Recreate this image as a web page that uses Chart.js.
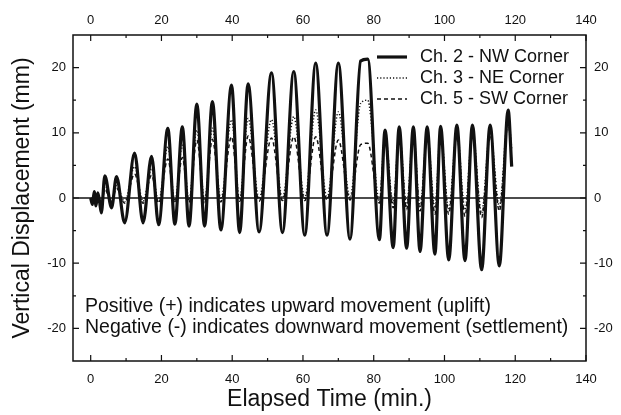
<!DOCTYPE html>
<html>
<head>
<meta charset="utf-8">
<script src="https://cdn.jsdelivr.net/npm/chart.js@4"></script>
<style>
  html, body { margin: 0; padding: 0; background: #fff; }
  #wrap { width: 621px; height: 415px; }
</style>
</head>
<body>
<div id="wrap"><canvas id="chart" width="621" height="415"></canvas></div>
<script>
// Cyclic uplift test: vertical displacement at three corners vs elapsed time.
// Values are turning points.

var timeMin = [
  0, 0.5, 1, 1.5, 2, 2.5, 3.0, 4.0, 5.9, 7.3,
  9.6, 12.4, 14.8, 17.2, 19.2, 21.8, 23.8, 25.9, 27.8, 30.0,
  32.2, 34.4, 36.8, 39.8, 42.1, 44.5, 47.6, 51.1, 54.2, 57.4,
  60.5, 63.6, 66.8, 70.0, 73.3, 76.3, 78.3, 81.6, 83.2, 85.5,
  87.2, 89.3, 91.2, 93.1, 95.1, 97.3, 98.9, 101.2, 103.5, 105.8,
  107.9, 110.5, 112.9, 115.5, 118.0, 119.0
];

var ch2NW = [
  0, -1.0, 1.0, -1.2, 0.8, -0.5, -2.3, 3.4, -1.5, 3.3,
  -3.8, 6.9, -3.8, 6.4, -4.1, 10.7, -4.0, 10.9, -4.3, 14.4,
  -4.3, 14.8, -4.9, 17.3, -5.3, 17.5, -5.2, 19.2, -5.3, 19.4,
  -5.7, 20.7, -5.7, 20.7, -6.3, 21.0, 21.3, -6.4, 10.4, -7.6,
  10.9, -7.7, 10.9, -8.2, 10.9, -8.6, 11.0, -9.5, 11.2, -9.6,
  11.2, -11.0, 11.2, -10.4, 13.5, 4.8
];

var ch3NE = [
  0, -0.3, 0.4, -0.4, 0.3, -0.2, -0.8, 1.6, -0.5, 1.9,
  -0.6, 4.8, -0.5, 4.5, -0.5, 7.9, -0.4, 8.1, -0.3, 10.4,
  -0.3, 10.7, -0.2, 12.0, -0.2, 12.2, -0.1, 12.0, 0, 12.5,
  0, 13.5, 0, 13.2, 0, 14.5, 15.0, -0.5, 10.0, -1.0,
  10.2, -1.2, 10.2, -1.5, 10.2, -1.5, 10.3, -1.8, 10.4, -1.8,
  10.4, -2.3, 10.4, -1.3, 12.5, 7.6
];

var ch5SW = [
  0, -0.5, 0.5, -0.5, 0.3, -0.2, -1.0, 1.3, -0.6, 1.5,
  -0.8, 3.7, -0.8, 3.5, -0.8, 6.0, -0.8, 6.2, -0.7, 8.9,
  -0.7, 9.0, -0.6, 9.4, -0.5, 9.5, -0.5, 9.2, -0.4, 9.4,
  -0.4, 9.4, -0.3, 8.9, -0.3, 8.2, 8.4, -0.8, 9.0, -1.5,
  9.4, -1.8, 9.4, -2.0, 9.4, -2.5, 9.5, -2.5, 9.6, -2.8,
  9.6, -3.0, 9.6, -2.0, 11.5, 5.6
];

var seriesNames = ['Ch. 2 - NW Corner', 'Ch. 3 - NE Corner', 'Ch. 5 - SW Corner'];
var xTickValues = [0, 20, 40, 60, 80, 100, 120, 140];
var xMinorTicks = [10, 30, 50, 70, 90, 110, 130];
var yTickValues = [-20, -10, 0, 10, 20];
var yMinorTicks = [-15, -5, 5, 15];
var noteLines = [
  'Positive (+) indicates upward movement (uplift)',
  'Negative (-) indicates downward movement (settlement)'
];

var INK = '#111';
var FONT = 'Liberation Sans, Arial, Helvetica, sans-serif';

function points(values) {
  return timeMin.map(function (t, i) { return { x: t, y: values[i] }; });
}

function fixTicks(values) {
  return function (axis) {
    axis.ticks = values.map(function (v) { return { value: v }; });
  };
}

// frame, inward ticks, zero line, legend and the note text
var paperFrame = {
  id: 'paperFrame',
  beforeDatasetsDraw: function (chart) {
    var ctx = chart.ctx, a = chart.chartArea;
    var y0 = chart.scales.y.getPixelForValue(0);
    ctx.save();
    ctx.strokeStyle = INK;
    ctx.lineWidth = 1.5;
    ctx.beginPath();
    ctx.moveTo(a.left, y0);
    ctx.lineTo(a.right, y0);
    ctx.stroke();
    ctx.restore();
  },
  afterDatasetsDraw: function (chart) {
    var ctx = chart.ctx, a = chart.chartArea;
    var xs = chart.scales.x, ys = chart.scales.y;
    ctx.save();
    ctx.strokeStyle = INK;
    ctx.lineWidth = 1.5;
    ctx.strokeRect(a.left, a.top, a.right - a.left, a.bottom - a.top);

    function xTick(v, len) {
      var px = xs.getPixelForValue(v);
      ctx.moveTo(px, a.bottom); ctx.lineTo(px, a.bottom - len);
      ctx.moveTo(px, a.top); ctx.lineTo(px, a.top + len);
    }
    function yTick(v, len) {
      var py = ys.getPixelForValue(v);
      ctx.moveTo(a.left, py); ctx.lineTo(a.left + len, py);
      ctx.moveTo(a.right, py); ctx.lineTo(a.right - len, py);
    }
    ctx.lineWidth = 1.2;
    ctx.beginPath();
    xTickValues.forEach(function (v) { xTick(v, 6); });
    xMinorTicks.forEach(function (v) { xTick(v, 3); });
    yTickValues.forEach(function (v) { yTick(v, 6); });
    yMinorTicks.forEach(function (v) { yTick(v, 3); });
    ctx.stroke();

    // legend
    ctx.font = '18px ' + FONT;
    ctx.fillStyle = INK;
    ctx.textBaseline = 'middle';
    chart.data.datasets.forEach(function (ds, i) {
      var ly = a.top + 22 + i * 21;
      ctx.save();
      ctx.strokeStyle = ds.borderColor;
      ctx.lineWidth = ds.borderWidth;
      ctx.setLineDash(ds.borderDash || []);
      ctx.beginPath();
      ctx.moveTo(a.left + 304, ly);
      ctx.lineTo(a.left + 334, ly);
      ctx.stroke();
      ctx.restore();
      ctx.fillText(ds.label, a.left + 347, ly);
    });

    // note
    ctx.font = '19.5px ' + FONT;
    noteLines.forEach(function (line, i) {
      ctx.fillText(line, a.left + 12, a.bottom - 54 + i * 21);
    });
    ctx.restore();
  }
};

var tickFont = { family: FONT, size: 13 };

new Chart(document.getElementById('chart'), {
  type: 'line',
  data: {
    datasets: [{
      label: seriesNames[0],
      data: points(ch2NW),
      borderColor: INK,
      borderWidth: 3.2,
      pointRadius: 0,
      cubicInterpolationMode: 'monotone'
    }, {
      label: seriesNames[1],
      data: points(ch3NE),
      borderColor: INK,
      borderWidth: 1.5,
      borderDash: [1.2, 2],
      pointRadius: 0,
      cubicInterpolationMode: 'monotone'
    }, {
      label: seriesNames[2],
      data: points(ch5SW),
      borderColor: INK,
      borderWidth: 1.5,
      borderDash: [4, 3],
      pointRadius: 0,
      cubicInterpolationMode: 'monotone'
    }]
  },
  options: {
    responsive: false,
    animation: false,
    layout: { padding: 0 },
    plugins: { legend: { display: false }, tooltip: { enabled: false } },
    scales: {
      x: {
        type: 'linear', position: 'bottom', min: -5, max: 140,
        grid: { display: false, drawTicks: false }, border: { display: false },
        ticks: { font: tickFont, color: INK, padding: 11, autoSkip: false, maxRotation: 0 },
        afterBuildTicks: fixTicks(xTickValues),
        afterFit: function (axis) { axis.height = 54; },
        title: { display: true, text: 'Elapsed Time (min.)', color: INK,
          font: { family: FONT, size: 23 }, padding: { top: 0, bottom: 2 } }
      },
      x2: {
        type: 'linear', position: 'top', min: -5, max: 140,
        grid: { display: false, drawTicks: false }, border: { display: false },
        ticks: { font: tickFont, color: INK, padding: 7, autoSkip: false, maxRotation: 0 },
        afterBuildTicks: fixTicks(xTickValues),
        afterFit: function (axis) { axis.height = 35; }
      },
      y: {
        type: 'linear', position: 'left', min: -25, max: 25,
        grid: { display: false, drawTicks: false }, border: { display: false },
        ticks: { font: tickFont, color: INK, padding: 7, autoSkip: false },
        afterBuildTicks: fixTicks(yTickValues),
        afterFit: function (axis) { axis.width = 73; },
        title: { display: true, text: 'Vertical Displacement (mm)', color: INK,
          font: { family: FONT, size: 23 }, padding: { top: 9, bottom: 0 } }
      },
      y2: {
        type: 'linear', position: 'right', min: -25, max: 25,
        grid: { display: false, drawTicks: false }, border: { display: false },
        ticks: { font: tickFont, color: INK, padding: 8, autoSkip: false },
        afterBuildTicks: fixTicks(yTickValues),
        afterFit: function (axis) { axis.width = 35; }
      }
    }
  },
  plugins: [paperFrame]
});
</script>
</body>
</html>
